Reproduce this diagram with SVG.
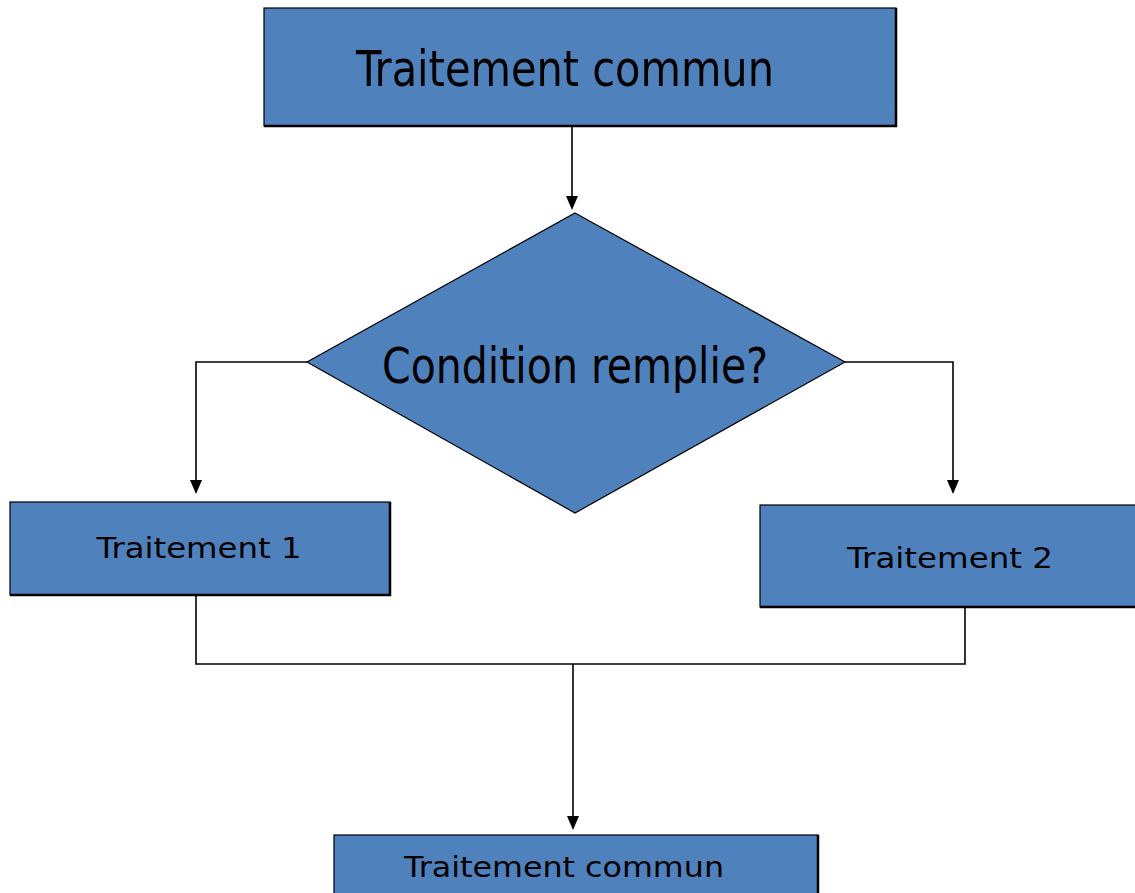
<svg xmlns="http://www.w3.org/2000/svg" width="1135" height="893" viewBox="0 0 1135 893">
  <style>
    .box { fill: #4F81BD; stroke: #000; stroke-width: 1.2; }
    .edge { fill: none; stroke: #000; stroke-width: 2.5; }
    .big { font-family: "DejaVu Sans Condensed", "DejaVu Sans", sans-serif; font-size: 50px; fill: #000; }
    .small { font-family: "DejaVu Sans", Verdana, sans-serif; font-size: 28px; fill: #000; }
    .wire { fill: none; stroke: #000; stroke-width: 1.6; }
    .head { fill: #000; }
  </style>
  <rect width="1135" height="893" fill="#fff"/>

  <g id="connectors">
    <path class="wire" d="M572,122 V196"/>
    <path class="head" d="M566,196 L578,196 L572,210 Z"/>
    <path class="wire" d="M307,362 H196 V480"/>
    <path class="head" d="M190,480 L202,480 L196,494 Z"/>
    <path class="wire" d="M845,362 H953 V480"/>
    <path class="head" d="M947,480 L959,480 L953,494 Z"/>
    <path class="wire" d="M196,595 V664 H965 V603"/>
    <path class="wire" d="M573,664 V816"/>
    <path class="head" d="M567,816 L579,816 L573,830 Z"/>
  </g>

  <g id="start">
    <rect class="box" x="264" y="8" width="632" height="118"/>
    <path class="edge" d="M264,126 H896 V8"/>
    <text class="big" x="565" y="86" text-anchor="middle" textLength="418" lengthAdjust="spacingAndGlyphs">Traitement commun</text>
  </g>

  <g id="decision">
    <polygon class="box" points="575,213 845,362 575,513 307,362" stroke-width="2"/>
    <text class="big" x="575" y="383" text-anchor="middle" textLength="386" lengthAdjust="spacingAndGlyphs">Condition remplie?</text>
  </g>

  <g id="branch1">
    <rect class="box" x="10" y="502" width="380" height="93"/>
    <path class="edge" d="M10,595 H390 V502"/>
    <text class="small" x="199" y="558" text-anchor="middle" textLength="205" lengthAdjust="spacingAndGlyphs">Traitement 1</text>
  </g>

  <g id="branch2">
    <rect class="box" x="760" y="505" width="380" height="102"/>
    <path class="edge" d="M760,607 H1140"/>
    <text class="small" x="950" y="568" text-anchor="middle" textLength="206" lengthAdjust="spacingAndGlyphs">Traitement 2</text>
  </g>

  <g id="end">
    <rect class="box" x="334" y="835" width="484" height="70"/>
    <path class="edge" d="M818,835 V893"/>
    <text class="small" x="564" y="877" text-anchor="middle" textLength="320" lengthAdjust="spacingAndGlyphs">Traitement commun</text>
  </g>
</svg>
